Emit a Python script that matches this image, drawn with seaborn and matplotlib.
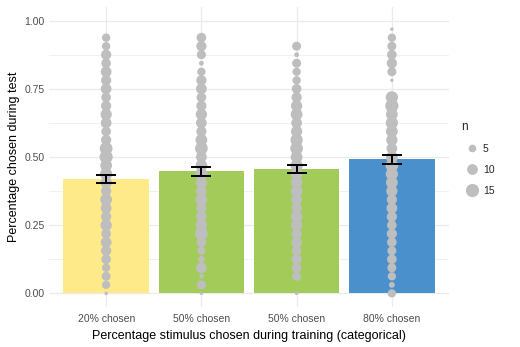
import numpy as np
import pandas as pd
import matplotlib
matplotlib.use("Agg")
import matplotlib.pyplot as plt
import seaborn as sns
from matplotlib.lines import Line2D

# ---- data ----
cat_keys = ["20", "50a", "50b", "80"]
cat_labels = ["20% chosen", "50% chosen", "50% chosen", "80% chosen"]
bar_means = [0.419, 0.447, 0.456, 0.492]
err_low = [0.405, 0.431, 0.441, 0.476]
err_high = [0.434, 0.463, 0.470, 0.508]
bar_colors = ["#FFEA8A", "#A3CB59", "#A3CB59", "#4A90CC"]

# points: y = k/32, n = count
k_20 = list(range(0, 31))
n_20 = [1, 6, 7, 6, 8, 9, 10, 8, 11, 9, 10, 12, 9, 11, 13, 12, 15, 14, 9, 8,
        10, 11, 9, 8, 10, 9, 10, 8, 9, 6, 6]
k_50a = list(range(0, 31))
n_50a = [1, 7, 2, 10, 4, 6, 8, 14, 11, 10, 9, 12, 10, 11, 13, 12, 10, 14, 12, 9,
         10, 11, 9, 8, 10, 9, 6, 2, 7, 9, 8]
k_50b = [0] + list(range(2, 30))
n_50b = [1, 7, 8, 9, 8, 10, 9, 11, 12, 9, 10, 12, 11, 12, 13, 12, 14, 13, 11,
         10, 12, 11, 9, 8, 6, 6, 7, 2, 7]
k_80 = list(range(0, 24)) + list(range(25, 32))
n_80 = [6, 3, 6, 7, 8, 7, 8, 9, 8, 9, 10, 9, 11, 12, 13, 14, 12, 10, 11, 12,
        13, 12, 15, 13, 1, 7, 9, 8, 7, 6, 1]

point_ks = [k_20, k_50a, k_50b, k_80]
point_ns = [n_20, n_50a, n_50b, n_80]

# ---- build frames ----
bars = pd.DataFrame({"cat": cat_keys, "mean": bar_means})
rows = []
for i, (ks, ns) in enumerate(zip(point_ks, point_ns)):
    for k, n in zip(ks, ns):
        rows.append((i, k / 32, n))
pts = pd.DataFrame(rows, columns=["xpos", "y", "n"])

sns.set_theme(style="white")
plt.rcParams["font.family"] = ["Liberation Sans", "DejaVu Sans"]

fig = plt.figure(figsize=(5.2, 3.47), dpi=100)
ax = fig.add_axes([49 / 520, 1 - 307 / 347, 400 / 520, 300 / 347])

sns.barplot(data=bars, x="cat", y="mean", hue="cat", order=cat_keys,
            palette=dict(zip(cat_keys, bar_colors)), width=0.9,
            errorbar=None, legend=False, saturation=1, ax=ax, zorder=2,
            linewidth=0)

k_scale = 6.0
sns.scatterplot(data=pts, x="xpos", y="y", size="n", sizes=(k_scale * 1, k_scale * 15),
                size_norm=(1, 15), color="#BEBEBE", linewidth=0, legend=False,
                ax=ax, zorder=3)

xs = np.arange(len(cat_keys))
means = np.array(bar_means)
ax.errorbar(xs, means, yerr=[means - np.array(err_low), np.array(err_high) - means],
            fmt="none", ecolor="black", elinewidth=1.4, capsize=7, capthick=1.4,
            zorder=4)

ax.set_xlim(-0.6, 3.6)
ax.set_ylim(-0.05, 1.05)
ax.set_xticks(xs)
ax.set_xticklabels(cat_labels)
ax.set_yticks([0, 0.25, 0.5, 0.75, 1.0])
ax.set_yticklabels(["0.00", "0.25", "0.50", "0.75", "1.00"])
ax.set_yticks([0.125, 0.375, 0.625, 0.875], minor=True)
ax.grid(True, which="major", color="#EBEBEB", linewidth=0.9, zorder=0)
ax.grid(True, which="minor", axis="y", color="#F1F1F1", linewidth=0.7, zorder=0)
ax.set_axisbelow(True)
for s in ax.spines.values():
    s.set_visible(False)
ax.tick_params(axis="both", which="both", length=0, labelsize=7.5,
               labelcolor="#4D4D4D", pad=3)
ax.tick_params(axis="x", pad=5)
ax.set_xlabel("Percentage stimulus chosen during training (categorical)",
              fontsize=9, color="black", labelpad=4)
ax.set_ylabel("Percentage chosen during test", fontsize=9, color="black",
              labelpad=3)

handles = [Line2D([0], [0], marker="o", linestyle="none", color="#BEBEBE",
                  markersize=np.sqrt(k_scale * v), markeredgewidth=0)
           for v in (5, 10, 15)]
leg = fig.legend(handles, ["5", "10", "15"], title="n", loc="upper left",
                 bbox_to_anchor=(457 / 520, 1 - 117 / 347), frameon=False,
                 fontsize=7.5, title_fontsize=8.5, handletextpad=0.1,
                 labelspacing=1.05, borderaxespad=0)
leg._legend_box.align = "left"

fig.savefig("out.png", dpi=100)
